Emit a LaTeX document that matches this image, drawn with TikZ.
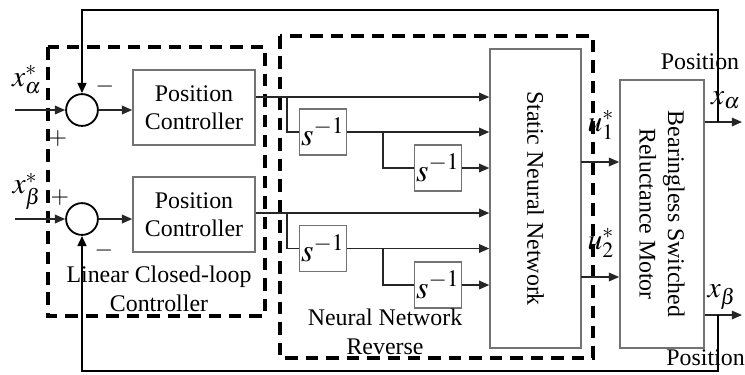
\documentclass[tikz,border=0pt]{standalone}
\usepackage{mathptmx}
\usepackage{fontspec}
\setmainfont{Liberation Serif}
\usetikzlibrary{arrows.meta,calc}

\tikzset{
  blk/.style={draw=black!55, line width=0.7pt, inner sep=0pt, align=center,
    font=\fontsize{10.5}{12.5}\selectfont},
  sumnode/.style={circle, draw=black, line width=0.8pt, minimum size=14pt, inner sep=0pt},
  sig/.style={-{Triangle[length=4.5pt,width=3.8pt]}, line width=0.6pt, black!85},
  wire/.style={line width=0.6pt, black!85},
  fb/.style={line width=1.1pt, black},
  grp/.style={draw=black, line width=1.4pt, dash pattern=on 5.5pt off 3.5pt},
  lbl/.style={font=\fontsize{10.5}{12.5}\selectfont, align=center, inner sep=0pt},
  var/.style={font=\fontsize{13}{15}\selectfont, inner sep=0pt}
}

\begin{document}
\begin{tikzpicture}[x=0.44pt,y=-0.44pt]
\useasboundingbox (0,0) rectangle (745,374);

% dashed groups
\draw[grp] (48,47) rectangle (265,316);
\draw[grp] (280,36) rectangle (593,358);

% summing points and controllers
\node[sumnode] (sa) at (82,110) {};
\node[sumnode] (sb) at (82,219) {};
\node[blk, minimum width=53.7pt, minimum height=33pt] (pca) at (194,107.5) {Position\\Controller};
\node[blk, minimum width=53.7pt, minimum height=33pt] (pcb) at (194,214.5) {Position\\Controller};

% integrators
\node[blk, minimum width=20.7pt, minimum height=20.2pt, font=\fontsize{14}{16}\selectfont] (ia1) at (323,132) {$s^{-1}$};
\node[blk, minimum width=20.7pt, minimum height=20.2pt, font=\fontsize{14}{16}\selectfont] (ia2) at (438,168) {$s^{-1}$};
\node[blk, minimum width=20.7pt, minimum height=20.2pt, font=\fontsize{14}{16}\selectfont] (ib1) at (323,248.5) {$s^{-1}$};
\node[blk, minimum width=20.7pt, minimum height=20.2pt, font=\fontsize{14}{16}\selectfont] (ib2) at (438,285) {$s^{-1}$};

% network and motor
\node[blk, minimum width=40pt, minimum height=131.6pt] (snn) at (535.5,198.5) {};
\node[lbl, rotate=-90] at (snn) {Static Neural Network};
\node[blk, minimum width=37pt, minimum height=118pt] (mot) at (662,214) {};
\node[lbl, rotate=-90] at (mot) {Bearingless Switched\\Reluctance Motor};

% texts
\node[lbl] (lcc) at (159,289) {Linear Closed-loop\\Controller};
\node[lbl] (nnr) at (385,332) {Neural Network\\Reverse};
\node[var] (xas) at (27,80) {$x_\alpha^*$};
\node[var] (xbs) at (27,191) {$x_\beta^*$};
\node[lbl] (pa) at (58,139) {$+$};
\node[lbl] (ma) at (105,87) {$-$};
\node[lbl] (pb) at (60,198) {$+$};
\node[lbl] (mb) at (104,251) {$-$};
\node[var] (u1) at (601,125) {$u_1^*$};
\node[var] (u2) at (601,243) {$u_2^*$};
\node[var] (xal) at (726,100) {$x_\alpha$};
\node[var] (xbl) at (722,297) {$x_\beta$};
\node[lbl] (posa) at (700,62) {Position};
\node[lbl, anchor=west] (posb) at (666,358) {Position};

% inputs
\coordinate (ina) at (15,110);
\coordinate (inb) at (15,219);
\draw[sig] (ina) -- (sa);
\draw[sig] (inb) -- (sb);
\draw[sig] (sa) -- (sa -| pca.west);
\draw[sig] (sb) -- (sb -| pcb.west);

% alpha channel
\coordinate (ja) at (287,97);
\coordinate (ka) at (383,132);
\draw[sig] (pca.east |- ja) -- (ja -| snn.west);
\draw[wire] (ja) |- (ia1.west);
\draw[sig] (ia1.east) -- (ia1.east -| snn.west);
\draw[wire] (ka) |- (ia2.west);
\draw[sig] (ia2.east) -- (ia2.east -| snn.west);

% beta channel
\coordinate (jb) at (287,213);
\coordinate (kb) at (383,248.5);
\draw[sig] (pcb.east |- jb) -- (jb -| snn.west);
\draw[wire] (jb) |- (ib1.west);
\draw[sig] (ib1.east) -- (ib1.east -| snn.west);
\draw[wire] (kb) |- (ib2.west);
\draw[sig] (ib2.east) -- (ib2.east -| snn.west);

% network to motor
\coordinate (ua) at (581,162);
\coordinate (ub) at (581,277);
\draw[sig] (ua) -- (ua -| mot.west);
\draw[sig] (ub) -- (ub -| mot.west);

% outputs and feedback
\coordinate (xa) at (718,122);
\coordinate (xb) at (718,315);
\coordinate (oa) at (742,122);
\coordinate (ob) at (742,315);
\draw[sig] (mot.east |- xa) -- (oa);
\draw[sig] (mot.east |- xb) -- (ob);
\draw[fb, -{Triangle[length=4.5pt,width=3.8pt]}] (xa) -- (718,10) -| (sa.north);
\draw[fb, -{Triangle[length=4.5pt,width=3.8pt]}] (xb) -- (718,371) -| (sb.south);
\end{tikzpicture}
\end{document}
